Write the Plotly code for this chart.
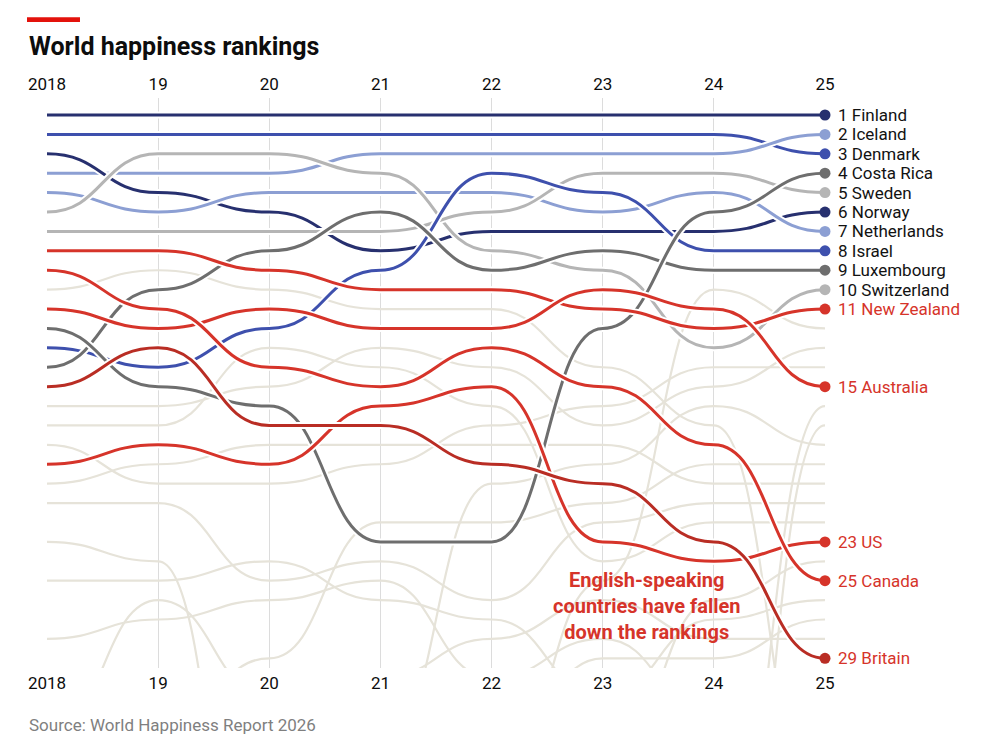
import plotly.graph_objects as go

years = [2018, 2019, 2020, 2021, 2022, 2023, 2024, 2025]
year_labels = ['2018', '19', '20', '21', '22', '23', '24', '25']

# highlighted countries, rank per year
highlight_names = ['Finland', 'Denmark', 'Iceland', 'Norway', 'Netherlands', 'Switzerland', 'Sweden',
                   'Israel', 'Luxembourg', 'Costa Rica',
                   'US', 'New Zealand', 'Australia', 'Canada', 'Britain']
finland = [1, 1, 1, 1, 1, 1, 1, 1]
denmark = [2, 2, 2, 2, 2, 2, 2, 3]
iceland = [4, 4, 4, 3, 3, 3, 3, 2]
norway = [3, 5, 6, 8, 7, 7, 7, 6]
netherlands = [5, 6, 5, 5, 5, 6, 5, 7]
switzerland = [6, 3, 3, 4, 8, 9, 13, 10]
sweden = [7, 7, 7, 7, 6, 4, 4, 5]
israel = [13, 14, 12, 9, 4, 5, 8, 8]
luxembourg = [14, 10, 8, 6, 9, 8, 9, 9]
costa_rica = [12, 15, 16, 23, 23, 12, 6, 4]
us = [19, 18, 19, 16, 15, 23, 24, 23]
new_zealand = [8, 8, 9, 10, 10, 11, 12, 11]
australia = [11, 12, 11, 12, 12, 10, 11, 15]
canada = [9, 11, 14, 15, 13, 15, 18, 25]
britain = [15, 13, 17, 17, 19, 20, 23, 29]
highlight_ranks = [finland, denmark, iceland, norway, netherlands, switzerland, sweden,
                   israel, luxembourg, costa_rica, us, new_zealand, australia, canada, britain]

# other countries (grey-beige background lines)
austria = [10, 9, 10, 11, 11, 14, 17, 38]
ireland = [16, 16, 15, 13, 14, 17, 15, 13]
germany = [17, 17, 13, 14, 16, 24, 22, 22]
belgium = [18, 20, 20, 19, 17, 16, 14, 14]
czechia = [20, 19, 18, 18, 18, 18, 20, 20]
uae = [21, 21, 25, 24, 26, 22, 21, 21]
mexico = [23, 24, 46, 46, 36, 25, 10, 12]
taiwan = [25, 25, 24, 26, 27, 31, 27, 26]
saudi_arabia = [28, 27, 26, 25, 30, 28, 32, 33]
uruguay = [33, 26, 31, 30, 28, 26, 28, 28]
slovenia = [44, 33, 29, 22, 22, 21, 19, 19]
lithuania = [42, 41, 39, 34, 20, 19, 16, 18]
kosovo = [46, 35, 33, 32, 34, 29, 29, 27]
poland = [40, 43, 44, 48, 39, 35, 26, 24]
estonia = [55, 50, 40, 36, 31, 34, 42, 16]
slovakia = [38, 37, 34, 35, 31, 45, 48, 17]
background_ranks = [austria, ireland, germany, belgium, czechia, uae, mexico, taiwan, saudi_arabia,
                    uruguay, slovenia, lithuania, kosovo, poland, estonia, slovakia]

NAVY = '#27306f'
BLUE = '#3e50ad'
LIGHT_BLUE = '#8c9fd3'
DARK_GREY = '#6e6e6e'
LIGHT_GREY = '#b5b5b5'
RED = '#d6342a'
DARK_RED = '#b92d24'
BEIGE = '#e6e3d9'

highlight_colors = [NAVY, BLUE, LIGHT_BLUE, NAVY, LIGHT_BLUE, LIGHT_GREY, LIGHT_GREY,
                    BLUE, DARK_GREY, DARK_GREY, RED, RED, RED, RED, DARK_RED]
label_colors = ['#121212' if c not in (RED, DARK_RED) else RED for c in highlight_colors]


def bump_path(ranks):
    # smooth S-shaped step between consecutive years (horizontal at each year)
    parts = ['M%s,%s' % (years[0], ranks[0])]
    for i in range(1, len(years)):
        xm = (years[i - 1] + years[i]) / 2
        parts.append('C%s,%s %s,%s %s,%s' % (xm, ranks[i - 1], xm, ranks[i], years[i], ranks[i]))
    return ' '.join(parts)


shapes = []
for ranks in background_ranks:
    shapes.append(dict(type='path', path=bump_path(ranks), xref='x', yref='y', layer='between',
                       line=dict(color=BEIGE, width=2.2)))
for ranks, color in zip(highlight_ranks, highlight_colors):
    path = bump_path(ranks)
    shapes.append(dict(type='path', path=path, xref='x', yref='y', layer='between',
                       line=dict(color='white', width=7)))
    shapes.append(dict(type='path', path=path, xref='x', yref='y', layer='between',
                       line=dict(color=color, width=3)))

# red bar above title
shapes.append(dict(type='rect', xref='paper', yref='paper', x0=-0.0257, x1=0.0424, y0=1.1335, y1=1.1415,
                   fillcolor='#e3120b', line=dict(width=0)))

fig = go.Figure()
finals = [r[-1] for r in highlight_ranks]
fig.add_trace(go.Scatter(x=[years[-1]] * len(finals), y=finals, mode='markers',
                         marker=dict(color=highlight_colors, size=11), hoverinfo='skip',
                         showlegend=False, cliponaxis=False))
# dummy trace so the top axis is drawn
fig.add_trace(go.Scatter(x=[years[0]], y=[1], xaxis='x2', mode='markers', marker=dict(opacity=0),
                         hoverinfo='skip', showlegend=False))

annotations = []
for name, final, lc in zip(highlight_names, finals, label_colors):
    annotations.append(dict(x=years[-1], y=final, xref='x', yref='y', text='%d %s' % (final, name),
                            showarrow=False, xanchor='left', yanchor='middle', xshift=11,
                            font=dict(size=17, color=lc, family='Roboto')))

annotations.append(dict(x=-0.0257, y=1.0895, xref='paper', yref='paper', text='<b>World happiness rankings</b>',
                        showarrow=False, xanchor='left', yanchor='middle',
                        font=dict(size=25, color='#0d0d0d', family='Roboto')))
annotations.append(dict(x=-0.0257, y=-0.1, xref='paper', yref='paper',
                        text='Source: World Happiness Report 2026',
                        showarrow=False, xanchor='left', yanchor='middle',
                        font=dict(size=17, color='#7f7f7f', family='Roboto')))
annotations.append(dict(x=2023.4, y=26.3, xref='x', yref='y',
                        text='<b>English-speaking<br>countries have fallen<br>down the rankings</b>',
                        showarrow=False, xanchor='center', yanchor='middle', align='center',
                        font=dict(size=20, color=RED, family='Roboto')))

axis_style = dict(range=[2018, 2025], tickvals=years, ticktext=year_labels, showline=False,
                  zeroline=False, tickfont=dict(size=17, color='#0d0d0d', family='Roboto'),
                  ticks='outside', ticklen=0, tickcolor='rgba(0,0,0,0)', fixedrange=True)

# the page adds an 8px body margin, so the plot area is placed 8px up/left of the target
fig.update_layout(
    width=982, height=736,
    margin=dict(l=39, r=165, t=90, b=76),
    plot_bgcolor='white', paper_bgcolor='white',
    font=dict(family='Roboto'),
    xaxis=dict(side='bottom', showgrid=True, gridcolor='#dcdcdc', gridwidth=1, **axis_style),
    xaxis2=dict(side='top', overlaying='x', matches='x', showgrid=False, **axis_style),
    yaxis=dict(range=[29.5, 0.124], visible=False, fixedrange=True),
    shapes=shapes,
    annotations=annotations,
    showlegend=False,
)

fig.write_html('out.html')
